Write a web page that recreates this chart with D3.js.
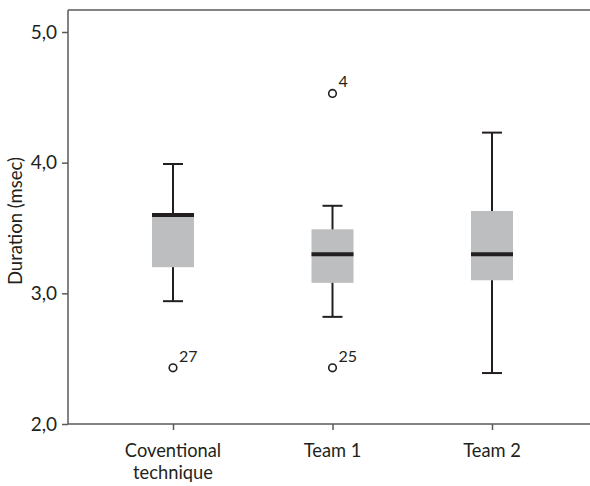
<!DOCTYPE html>
<html>
<head>
<meta charset="utf-8">
<script src="https://cdn.jsdelivr.net/npm/d3@7"></script>
<style>
  body { margin: 0; background: #fff; }
  text { font-family: Lato, "Open Sans", sans-serif; fill: #231f20; }
</style>
</head>
<body>
<svg id="chart" width="590" height="486"></svg>
<script>
'use strict';

// data
let groups = ["Coventional technique", "Team 1", "Team 2"]
let groupLines = [["Coventional", "technique"], ["Team 1"], ["Team 2"]]
let whiskerLow = [2.94, 2.82, 2.39]
let q1 = [3.20, 3.08, 3.10]
let medians = [3.60, 3.30, 3.30]
let q3 = [3.61, 3.49, 3.63]
let whiskerHigh = [3.99, 3.67, 4.23]
let outliers = [
    {group: "Coventional technique", value: 2.43, label: "27"},
    {group: "Team 1", value: 4.53, label: "4"},
    {group: "Team 1", value: 2.43, label: "25"}
]
let yTicks = [2, 3, 4, 5]

let svg = d3.select("#chart")
let width = +svg.attr("width")

let plotLeft = 68, plotTop = 10, plotBottom = 424

let x = d3.scalePoint().domain(groups).range([173, 492])
let y = d3.scaleLinear().domain([2, 5]).range([plotBottom, 32])

let boxes = groups.map(function(g, i) {
    return {group: g, lo: whiskerLow[i], q1: q1[i], med: medians[i], q3: q3[i], hi: whiskerHigh[i]}
})

// frame: left, top and bottom lines only
let frame = svg.append("g").attr("stroke", "#5a5a5a").attr("stroke-width", 1.5)
frame.append("line").attr("x1", plotLeft).attr("x2", plotLeft).attr("y1", plotTop).attr("y2", plotBottom)
frame.append("line").attr("x1", plotLeft).attr("x2", width).attr("y1", plotTop).attr("y2", plotTop)
frame.append("line").attr("x1", plotLeft).attr("x2", width).attr("y1", plotBottom).attr("y2", plotBottom)

// y axis
let yAxis = svg.append("g")
    .attr("transform", "translate(" + plotLeft + ",0)")
    .call(d3.axisLeft(y).tickValues(yTicks).tickSize(6).tickPadding(5)
        .tickFormat(function(d) { return d3.format(".1f")(d).replace(".", ","); }))
yAxis.select(".domain").remove()
yAxis.selectAll(".tick line").attr("stroke", "#5a5a5a").attr("stroke-width", 1.5)
yAxis.selectAll(".tick text").attr("font-size", 19).attr("font-family", "Lato").attr("fill", "#231f20")

// x axis
let xAxis = svg.append("g")
    .attr("transform", "translate(0," + plotBottom + ")")
    .call(d3.axisBottom(x).tickSize(6).tickFormat(""))
xAxis.select(".domain").remove()
xAxis.selectAll(".tick line").attr("stroke", "#5a5a5a").attr("stroke-width", 1.5)

let xLabels = svg.append("g")
groups.forEach(function(g, gi) {
    groupLines[gi].forEach(function(w, i) {
        xLabels.append("text")
            .attr("x", x(g))
            .attr("y", 457 + i * 22)
            .attr("text-anchor", "middle")
            .attr("font-size", 18.3)
            .text(w)
    })
})

svg.append("text")
    .attr("transform", "translate(22," + 221 + ") rotate(-90)")
    .attr("text-anchor", "middle")
    .attr("font-size", 18.5)
    .text("Duration (msec)")

// boxes
let boxWidth = 42, capWidth = 20
let box = svg.append("g").selectAll("g")
    .data(boxes)
    .enter().append("g")

box.append("line")
    .attr("x1", function(d) { return x(d.group); })
    .attr("x2", function(d) { return x(d.group); })
    .attr("y1", function(d) { return y(d.lo); })
    .attr("y2", function(d) { return y(d.hi); })
    .attr("stroke", "#231f20").attr("stroke-width", 2)

box.selectAll(".cap")
    .data(function(d) { return [d.lo, d.hi].map(function(v) { return {group: d.group, v: v}; }); })
    .enter().append("line")
    .attr("class", "cap")
    .attr("x1", function(d) { return x(d.group) - capWidth / 2; })
    .attr("x2", function(d) { return x(d.group) + capWidth / 2; })
    .attr("y1", function(d) { return y(d.v); })
    .attr("y2", function(d) { return y(d.v); })
    .attr("stroke", "#231f20").attr("stroke-width", 2)

box.append("rect")
    .attr("x", function(d) { return x(d.group) - boxWidth / 2; })
    .attr("width", boxWidth)
    .attr("y", function(d) { return y(d.q3); })
    .attr("height", function(d) { return y(d.q1) - y(d.q3); })
    .attr("fill", "#bdbec0")

box.append("line")
    .attr("x1", function(d) { return x(d.group) - boxWidth / 2; })
    .attr("x2", function(d) { return x(d.group) + boxWidth / 2; })
    .attr("y1", function(d) { return y(d.med); })
    .attr("y2", function(d) { return y(d.med); })
    .attr("stroke", "#231f20").attr("stroke-width", 4)

// outliers
let out = svg.append("g").selectAll("g")
    .data(outliers)
    .enter().append("g")

out.append("circle")
    .attr("cx", function(d) { return x(d.group); })
    .attr("cy", function(d) { return y(d.value); })
    .attr("r", 3.8)
    .attr("fill", "#fff")
    .attr("stroke", "#231f20")
    .attr("stroke-width", 1.6)

out.append("text")
    .attr("x", function(d) { return x(d.group) + 6; })
    .attr("y", function(d) { return y(d.value) - 6; })
    .attr("font-size", 16)
    .text(function(d) { return d.label; })
</script>
</body>
</html>
